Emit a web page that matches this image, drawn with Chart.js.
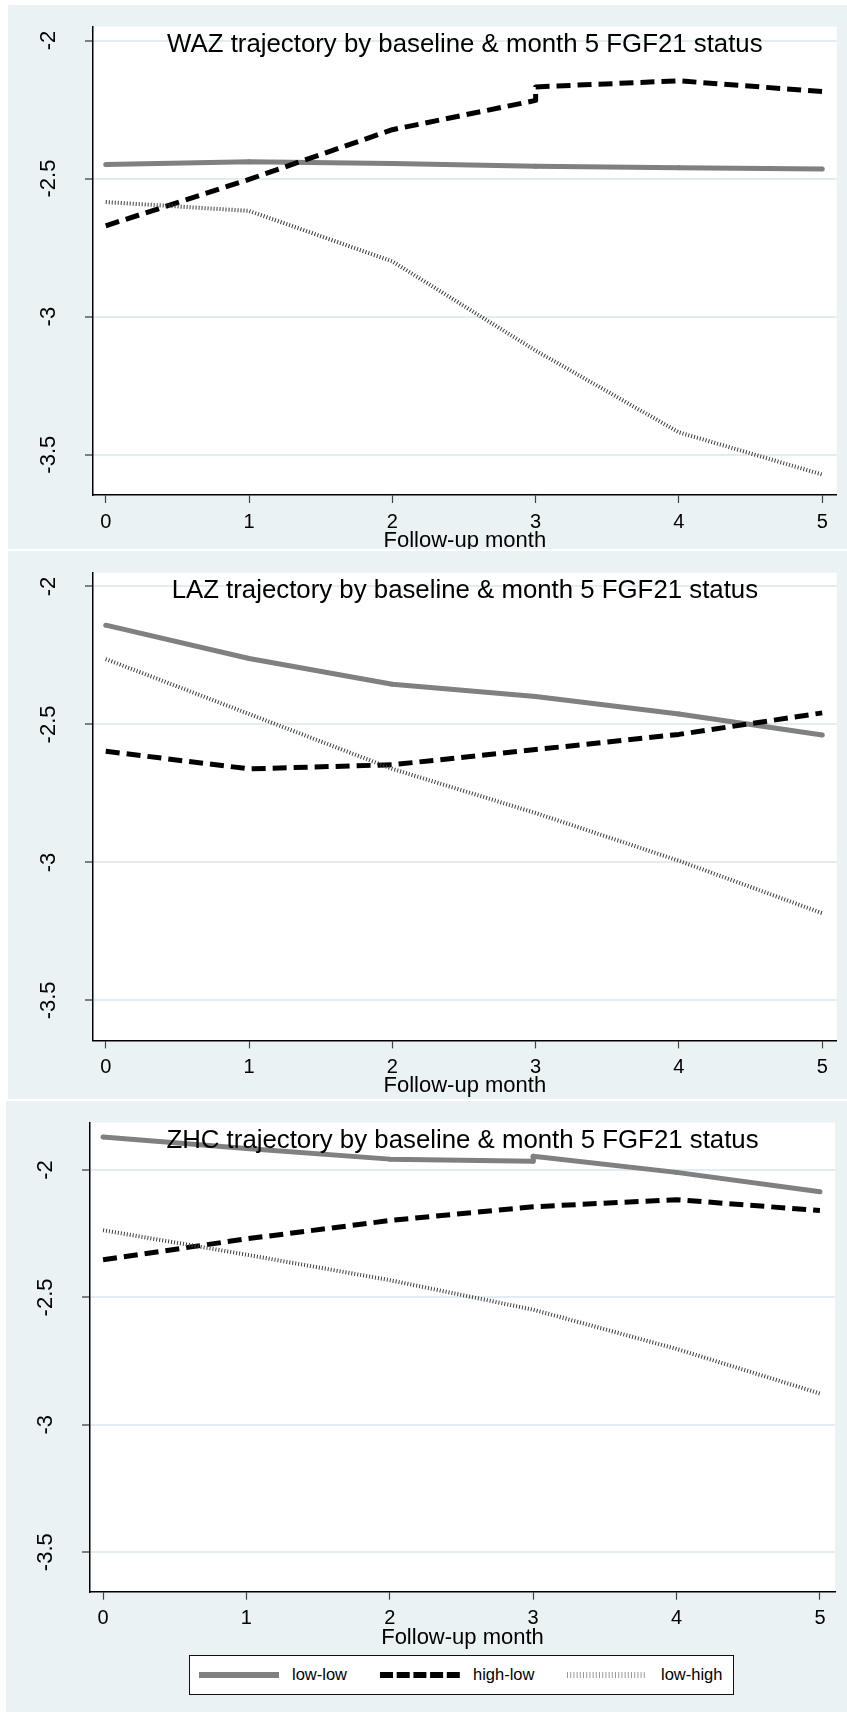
<!DOCTYPE html>
<html>
<head>
<meta charset="utf-8">
<title>FGF21 trajectories</title>
<script src="https://cdn.jsdelivr.net/npm/chart.js@4.4.1/dist/chart.umd.min.js"></script>
<style>
  body { margin:0; background:#fff; width:847px; height:1712px; position:relative; overflow:hidden;
         font-family:"Liberation Sans", Arial, sans-serif; }
  canvas { position:absolute; background:#eaf2f3; }
  #leyenda { position:absolute; left:189px; top:1655px; width:543px; height:38px;
             border:1px solid #111; background:#fff; }
  #leyenda svg, #leyenda span { position:absolute; }
  #leyenda span { font-size:16.5px; top:9px; color:#000; }
</style>
</head>
<body>
<canvas id="waz"></canvas>
<canvas id="laz"></canvas>
<canvas id="zhc"></canvas>
<div id="leyenda"></div>

<script>
// datos
var seriesNames = ['low-low', 'high-low', 'low-high'];
var xTicks = [0, 1, 2, 3, 4, 5];
var yTicks = [-2, -2.5, -3, -3.5];
var yTickLabels = ['-2', '-2.5', '-3', '-3.5'];
var xTitle = 'Follow-up month';
var titles = ['WAZ trajectory by baseline & month 5 FGF21 status',
              'LAZ trajectory by baseline & month 5 FGF21 status',
              'ZHC trajectory by baseline & month 5 FGF21 status'];

// WAZ
var wazLowLowX = [0, 1, 2, 3, 4, 5];
var wazLowLow = [-2.449, -2.439, -2.445, -2.455, -2.461, -2.465];
var wazHighLowX = [0, 1, 2, 3, 3, 4, 5];
var wazHighLow = [-2.671, -2.503, -2.323, -2.217, -2.168, -2.146, -2.185];
var wazLowHighX = [0, 1, 2, 3, 4, 5];
var wazLowHigh = [-2.585, -2.617, -2.800, -3.123, -3.419, -3.572];

// LAZ
var lazLowLowX = [0, 1, 2, 3, 4, 5];
var lazLowLow = [-2.140, -2.261, -2.354, -2.399, -2.462, -2.538];
var lazHighLowX = [0, 1, 2, 3, 4, 5];
var lazHighLow = [-2.597, -2.661, -2.646, -2.591, -2.536, -2.458];
var lazLowHighX = [0, 1, 2, 3, 4, 5];
var lazLowHigh = [-2.263, -2.462, -2.661, -2.821, -2.994, -3.184];

// ZHC
var zhcLowLowX = [0, 1, 2, 3, 3, 4, 5];
var zhcLowLow = [-1.870, -1.915, -1.957, -1.965, -1.946, -2.009, -2.085];
var zhcHighLowX = [0, 1, 2, 3, 4, 5];
var zhcHighLow = [-2.352, -2.270, -2.198, -2.144, -2.116, -2.159];
var zhcLowHighX = [0, 1, 2, 3, 4, 5];
var zhcLowHigh = [-2.236, -2.332, -2.432, -2.548, -2.702, -2.877];

var fuente = '"Liberation Sans", Arial, sans-serif';

var estilos = [
  {color: '#808080', width: 5, dash: [], radius: 2.5, order: 2},
  {color: '#000000', width: 5, dash: [14, 7], radius: 0, order: 1},
  {color: '#3c3c3c', width: 4, dash: [1, 2], radius: 0, order: 0}
];

function puntos(xs, ys){
    var p = [];
    for (var i = 0; i < xs.length; i++){
        p.push({x: xs[i], y: ys[i]});
    }
    return p;
}

// fondo blanco del area, etiquetas del eje y giradas y titulo
var panelPlugin = {
    id: 'panel',
    beforeDraw: function(chart){
        var a = chart.chartArea;
        var ctx = chart.ctx;
        ctx.save();
        ctx.fillStyle = '#ffffff';
        ctx.fillRect(a.left, a.top, a.right - a.left, a.bottom - a.top);
        ctx.restore();
    },
    afterDraw: function(chart){
        var op = chart.options.plugins.panel;
        var ctx = chart.ctx;
        var a = chart.chartArea;
        var ys = chart.scales.y;
        ctx.save();
        ctx.fillStyle = '#000';
        ctx.textAlign = 'center';
        ctx.textBaseline = 'alphabetic';
        ctx.font = '22px ' + fuente;
        for (var i = 0; i < yTicks.length; i++){
            ctx.save();
            ctx.translate(op.labelX, ys.getPixelForValue(yTicks[i]));
            ctx.rotate(-Math.PI / 2);
            ctx.fillText(yTickLabels[i], 0, 0);
            ctx.restore();
        }
        ctx.font = '25.8px ' + fuente;
        ctx.fillText(op.title, (a.left + a.right) / 2, a.top + 25.5);
        ctx.restore();
    }
};

function crearPanel(id, pos, area, yMin, yMax, xMin, xMax, titulo, xsList, ysList){
    var cv = document.getElementById(id);
    cv.width = pos.w;
    cv.height = pos.h;
    cv.style.left = pos.x + 'px';
    cv.style.top = pos.y + 'px';

    var datasets = [];
    for (var s = 0; s < 3; s++){
        datasets.push({
            label: seriesNames[s],
            data: puntos(xsList[s], ysList[s]),
            borderColor: estilos[s].color,
            backgroundColor: estilos[s].color,
            borderWidth: estilos[s].width,
            borderDash: estilos[s].dash,
            borderCapStyle: 'butt',
            borderJoinStyle: 'round',
            pointRadius: estilos[s].radius,
            pointBorderWidth: 0,
            pointBackgroundColor: estilos[s].color,
            tension: 0,
            fill: false,
            order: estilos[s].order
        });
    }

    var tituloPad = pos.h - area.bottom - 46 - 13.2;

    return new Chart(cv.getContext('2d'), {
        type: 'line',
        data: {datasets: datasets},
        options: {
            responsive: false,
            animation: false,
            devicePixelRatio: 1,
            layout: {padding: {left: 0, top: area.top, right: pos.w - area.right, bottom: 0}},
            plugins: {
                legend: {display: false},
                tooltip: {enabled: false},
                panel: {title: titulo, labelX: area.left - 38}
            },
            scales: {
                x: {
                    type: 'linear',
                    min: xMin,
                    max: xMax,
                    afterBuildTicks: function(sc){ sc.ticks = xTicks.map(function(v){ return {value: v}; }); },
                    afterFit: function(sc){ sc.height = pos.h - area.bottom; },
                    grid: {drawOnChartArea: false, drawTicks: true, tickLength: 8, tickColor: '#444', tickWidth: 1.2},
                    border: {display: true, color: '#000', width: 1.5},
                    ticks: {color: '#000', font: {family: fuente, size: 20}, padding: 7, maxRotation: 0,
                            callback: function(v){ return String(v); }},
                    title: {display: true, text: xTitle, color: '#000', font: {family: fuente, size: 22, lineHeight: 1.2},
                            padding: {top: 0, bottom: tituloPad}}
                },
                y: {
                    type: 'linear',
                    min: yMin,
                    max: yMax,
                    afterBuildTicks: function(sc){ sc.ticks = yTicks.map(function(v){ return {value: v}; }); },
                    afterFit: function(sc){ sc.width = area.left; },
                    grid: {color: '#e3ecee', lineWidth: 2, drawTicks: true, tickLength: 8, tickColor: '#333', tickWidth: 1.2},
                    border: {display: true, color: '#000', width: 1.5},
                    ticks: {display: false}
                }
            }
        },
        plugins: [panelPlugin]
    });
}

crearPanel('waz', {x: 8, y: 5, w: 839, h: 544}, {left: 85, top: 21.7, right: 828.7, bottom: 490},
    -3.646, -1.95, -0.089, 5.101, titles[0],
    [wazLowLowX, wazHighLowX, wazLowHighX], [wazLowLow, wazHighLow, wazLowHigh]);

crearPanel('laz', {x: 8, y: 551, w: 839, h: 548}, {left: 85, top: 21.7, right: 828.7, bottom: 489.4},
    -3.645, -1.95, -0.089, 5.101, titles[1],
    [lazLowLowX, lazHighLowX, lazLowHighX], [lazLowLow, lazHighLow, lazLowHigh]);

crearPanel('zhc', {x: 6, y: 1101, w: 841, h: 611}, {left: 84, top: 21.7, right: 829, bottom: 490.7},
    -3.655, -1.814, -0.091, 5.105, titles[2],
    [zhcLowLowX, zhcHighLowX, zhcLowHighX], [zhcLowLow, zhcHighLow, zhcLowHigh]);

// leyenda abajo
var leyenda = document.getElementById('leyenda');
var posLeyenda = [[9, 102], [190, 283], [377, 471]];
var muestras = [
    {color: '#808080', width: 6, dash: ''},
    {color: '#000000', width: 6, dash: '13 3.7'},
    {color: '#9a9a9a', width: 6, dash: '1 2.2'}
];
for (var k = 0; k < 3; k++){
    var m = muestras[k];
    var svg = '<svg width="80" height="12" style="left:' + posLeyenda[k][0] + 'px;top:13px">' +
              '<line x1="0" y1="6" x2="80" y2="6" stroke="' + m.color + '" stroke-width="' + m.width + '"' +
              (m.dash ? ' stroke-dasharray="' + m.dash + '"' : '') + '/></svg>';
    leyenda.innerHTML += svg + '<span style="left:' + posLeyenda[k][1] + 'px">' + seriesNames[k] + '</span>';
}
</script>
</body>
</html>
